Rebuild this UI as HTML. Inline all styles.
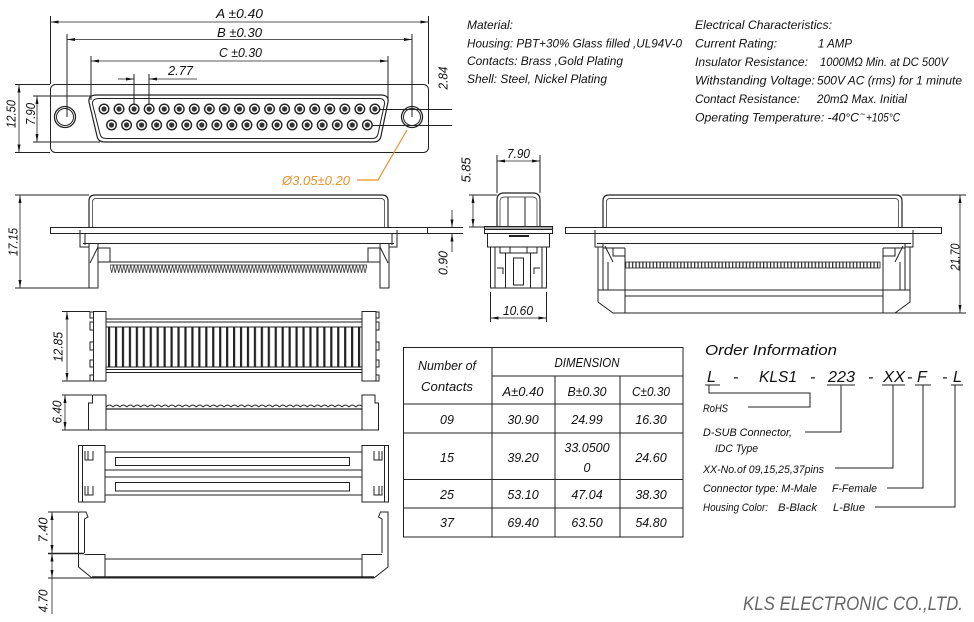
<!DOCTYPE html>
<html><head><meta charset="utf-8"><style>
html,body{margin:0;padding:0;background:#fff;}
svg{display:block;}
text{font-family:"Liberation Sans",sans-serif;font-style:italic;fill:#111;}
</style></head><body>
<svg width="974" height="622" viewBox="0 0 974 622" xmlns="http://www.w3.org/2000/svg">
<defs>
<marker id="ar" viewBox="0 0 8 3" refX="8" refY="1.5" markerWidth="8" markerHeight="3" orient="auto-start-reverse" markerUnits="userSpaceOnUse"><path d="M0,0L8,1.5L0,3z" fill="#111"/></marker>
<g id="pin"><circle r="4.8" fill="#fff" stroke="#222" stroke-width="1.4"/><circle r="2.6" fill="#333"/></g>
<pattern id="sl" x="108" y="0" width="6.944" height="622" patternUnits="userSpaceOnUse"><rect x="0" y="0" width="2.2" height="622" fill="#222"/></pattern>
<pattern id="zz" x="110" y="262" width="3.47" height="11" patternUnits="userSpaceOnUse"><path d="M0,3 L1.735,11 L3.47,3" fill="none" stroke="#333" stroke-width=".8"/></pattern>
<pattern id="tk" x="625" y="0" width="3.45" height="622" patternUnits="userSpaceOnUse"><rect x="0" y="0" width="1.3" height="622" fill="#333"/></pattern>
<pattern id="bm" x="106" y="403" width="6.94" height="6" patternUnits="userSpaceOnUse"><path d="M0,4 Q3.47,0 6.94,4" fill="none" stroke="#222" stroke-width="1"/></pattern>
</defs>

<g fill="none" stroke="#222" stroke-width="1">
<rect x="50.5" y="84.5" width="378" height="68" rx="5"/>
<circle cx="65" cy="117" r="10.5" stroke-width="1.3"/><circle cx="65" cy="117" r="8.5"/>
<circle cx="412" cy="117" r="10.5" stroke-width="1.3"/><circle cx="412" cy="117" r="8.5"/>
<path d="M97,95 H381 Q389,95 388,102 L381,136 Q380,142 373,142 H105 Q98,142 97,136 L89,102 Q88,95 97,95Z" stroke-width="1.2"/>
<path d="M99,98.5 H379 Q385,98.5 384.5,104 L378,134 Q377,138.5 372,138.5 H106 Q101,138.5 100,134 L92.5,104 Q92,98.5 99,98.5Z"/>
<line x1="50.5" y1="16" x2="50.5" y2="84"/><line x1="428.5" y1="16" x2="428.5" y2="84"/>
<line x1="50.5" y1="22" x2="428.5" y2="22" marker-start="url(#ar)" marker-end="url(#ar)" stroke-width=".8"/>
<line x1="67" y1="34" x2="67" y2="117"/><line x1="412" y1="34" x2="412" y2="117"/>
<line x1="67" y1="39.5" x2="412" y2="39.5" marker-start="url(#ar)" marker-end="url(#ar)" stroke-width=".8"/>
<line x1="91" y1="56" x2="91" y2="100"/><line x1="388" y1="56" x2="388" y2="100"/>
<line x1="91" y1="61" x2="388" y2="61" marker-start="url(#ar)" marker-end="url(#ar)" stroke-width=".8"/>
<line x1="134" y1="74" x2="134" y2="109"/><line x1="149" y1="74" x2="149" y2="109"/>
<line x1="118" y1="79" x2="134" y2="79" marker-end="url(#ar)" stroke-width=".8"/>
<line x1="197" y1="79" x2="149" y2="79" marker-end="url(#ar)" stroke-width=".8"/>
<line x1="15" y1="84.5" x2="50" y2="84.5"/><line x1="15" y1="152.5" x2="50" y2="152.5"/>
<line x1="19" y1="84.5" x2="19" y2="152.5" marker-start="url(#ar)" marker-end="url(#ar)" stroke-width=".8"/>
<line x1="33" y1="96" x2="92" y2="96"/><line x1="33" y1="142" x2="100" y2="142"/>
<line x1="37" y1="96" x2="37" y2="142" marker-start="url(#ar)" marker-end="url(#ar)" stroke-width=".8"/>
<line x1="380" y1="109.5" x2="452" y2="109.5"/><line x1="372" y1="125.5" x2="452" y2="125.5"/>
</g>
<g>
<use href="#pin" x="104" y="109"/><use href="#pin" x="119.05" y="109"/><use href="#pin" x="134.1" y="109"/><use href="#pin" x="149.15" y="109"/><use href="#pin" x="164.2" y="109"/><use href="#pin" x="179.25" y="109"/><use href="#pin" x="194.3" y="109"/><use href="#pin" x="209.35" y="109"/><use href="#pin" x="224.4" y="109"/><use href="#pin" x="239.45" y="109"/><use href="#pin" x="254.5" y="109"/><use href="#pin" x="269.55" y="109"/><use href="#pin" x="284.6" y="109"/><use href="#pin" x="299.65" y="109"/><use href="#pin" x="314.7" y="109"/><use href="#pin" x="329.75" y="109"/><use href="#pin" x="344.8" y="109"/><use href="#pin" x="359.85" y="109"/><use href="#pin" x="374.9" y="109"/>
<use href="#pin" x="111.5" y="125"/><use href="#pin" x="126.55" y="125"/><use href="#pin" x="141.6" y="125"/><use href="#pin" x="156.65" y="125"/><use href="#pin" x="171.7" y="125"/><use href="#pin" x="186.75" y="125"/><use href="#pin" x="201.8" y="125"/><use href="#pin" x="216.85" y="125"/><use href="#pin" x="231.9" y="125"/><use href="#pin" x="246.95" y="125"/><use href="#pin" x="262" y="125"/><use href="#pin" x="277.05" y="125"/><use href="#pin" x="292.1" y="125"/><use href="#pin" x="307.15" y="125"/><use href="#pin" x="322.2" y="125"/><use href="#pin" x="337.25" y="125"/><use href="#pin" x="352.3" y="125"/><use href="#pin" x="367.35" y="125"/>
</g>
<polyline points="407,130 378,180 357,180" fill="none" stroke="#e8912d" stroke-width="1.2"/>

<g fill="none" stroke="#222" stroke-width="1">
<path d="M89,227 V201 Q89,195 95,195 H382 Q388,195 388,201 V227" stroke-width="1.2"/>
<path d="M92.5,227 V202 Q92.5,198.5 96,198.5 H381 Q384.5,198.5 384.5,202 V227" stroke-width=".7"/>
<rect x="50.5" y="227.5" width="377" height="6"/>
<path d="M80,230 V247 H89 M397,230 V247 H389"/>
<line x1="85" y1="233" x2="85" y2="245"/><line x1="392" y1="233" x2="392" y2="245"/>
<line x1="83" y1="243.5" x2="394" y2="243.5"/>
<rect x="89" y="243.5" width="9" height="44.5"/><rect x="380" y="243.5" width="9" height="44.5"/>
<line x1="98" y1="247" x2="90" y2="263"/><line x1="380" y1="247" x2="388" y2="263"/>
<path d="M98,248 H110 V262 M380,248 H368 V262"/>
<line x1="98" y1="262" x2="380" y2="262"/>
<rect x="110" y="262" width="257" height="11" fill="url(#zz)" stroke="none"/>
<line x1="110" y1="265" x2="367" y2="265" stroke-width=".8"/>
<line x1="15" y1="195" x2="89" y2="195"/><line x1="15" y1="288" x2="89" y2="288"/>
<line x1="20" y1="195" x2="20" y2="288" marker-start="url(#ar)" marker-end="url(#ar)" stroke-width=".8"/>

<line x1="428" y1="227.5" x2="463" y2="227.5"/><line x1="428" y1="233.5" x2="463" y2="233.5"/>
<line x1="452" y1="210" x2="452" y2="227.5" marker-end="url(#ar)" stroke-width=".8"/>
<line x1="452" y1="252" x2="452" y2="233.5" marker-end="url(#ar)" stroke-width=".8"/>

<path d="M497,227 V200 Q497,193 504,193 H533 Q540,193 540,200 V227" stroke-width="1.2"/>
<path d="M500,227 V201 Q500,197 505,197 H532 Q537,197 537,201 V227" stroke-width=".7"/>
<line x1="508" y1="197" x2="508" y2="227"/><line x1="525" y1="197" x2="525" y2="227"/>
<rect x="484.5" y="226.5" width="68" height="3" fill="#aaa"/>
<rect x="484.5" y="226.5" width="68" height="7"/>
<rect x="487.5" y="233.5" width="62" height="13.5"/>
<line x1="509" y1="236" x2="529" y2="236" stroke-width="2"/>
<rect x="490.5" y="247" width="56" height="41"/>
<line x1="495" y1="247" x2="495" y2="288"/><line x1="542" y1="247" x2="542" y2="288"/>
<path d="M500,247 V253 H510 V247 M537,247 V253 H527 V247"/>
<rect x="505.5" y="253" width="25" height="35"/>
<rect x="513.5" y="258" width="10" height="27"/>
<path d="M497,268 H503 V274 M540,268 H534 V274"/>
<line x1="497" y1="155" x2="497" y2="193"/><line x1="540" y1="155" x2="540" y2="193"/>
<line x1="497" y1="161" x2="540" y2="161" marker-start="url(#ar)" marker-end="url(#ar)" stroke-width=".8"/>
<line x1="469" y1="195" x2="497" y2="195"/><line x1="469" y1="227" x2="484" y2="227"/>
<line x1="473" y1="195" x2="473" y2="227" marker-start="url(#ar)" marker-end="url(#ar)" stroke-width=".8"/>
<line x1="490.5" y1="292" x2="490.5" y2="322"/><line x1="546.5" y1="292" x2="546.5" y2="322"/>
<line x1="490.5" y1="318" x2="546.5" y2="318" marker-start="url(#ar)" marker-end="url(#ar)" stroke-width=".8"/>

<path d="M603,227 V201 Q603,195 609,195 H896 Q902,195 902,201 V227" stroke-width="1.2"/>
<path d="M606.5,227 V202 Q606.5,198.5 610,198.5 H895 Q898.5,198.5 898.5,202 V227" stroke-width=".7"/>
<rect x="565.5" y="227.5" width="376" height="6"/>
<path d="M595,230 V247 H603 M913,230 V247 H905"/>
<line x1="597" y1="243.5" x2="911" y2="243.5"/>
<path d="M598,247 V302 L613,313 H895 L910,302 V247"/>
<line x1="603" y1="243" x2="603" y2="290"/><line x1="905" y1="243" x2="905" y2="290"/>
<line x1="625" y1="248" x2="625" y2="313"/><line x1="883" y1="248" x2="883" y2="313"/>
<line x1="598" y1="290" x2="910" y2="290"/><line x1="625" y1="296" x2="883" y2="296"/>
<path d="M603,248 H625 M613,248 V256 H625 M905,248 H883 M895,248 V256 H883"/>
<line x1="605" y1="246" x2="613" y2="262"/><line x1="903" y1="246" x2="895" y2="262"/>
<path d="M608,262 V290 M900,262 V290"/>
<rect x="625" y="262" width="255" height="6" fill="url(#tk)" stroke="none"/>
<rect x="625" y="262" width="255" height="6" stroke-width=".8"/>
<line x1="902" y1="195" x2="966" y2="195"/><line x1="895" y1="313" x2="966" y2="313"/>
<line x1="960" y1="195" x2="960" y2="313" marker-start="url(#ar)" marker-end="url(#ar)" stroke-width=".8"/>

<rect x="93.5" y="311.5" width="12.5" height="69.5"/>
<rect x="362" y="311.5" width="14" height="69.5"/>
<path d="M93,312 H90 V318 H93 M93,322 H90 V330 H93 M93,342 H90 V350 H93 M93,360 H90 V367 H93 M93,375 H90 V381 H93"/>
<path d="M376,312 H379 V318 H376 M376,322 H379 V330 H376 M376,342 H379 V350 H376 M376,360 H379 V367 H376 M376,375 H379 V381 H376"/>
<line x1="106" y1="319" x2="362" y2="319"/><line x1="106" y1="322" x2="362" y2="322"/>
<line x1="106" y1="327" x2="362" y2="327"/><line x1="106" y1="367" x2="362" y2="367"/>
<line x1="106" y1="369.5" x2="362" y2="369.5"/><line x1="106" y1="372.5" x2="362" y2="372.5"/>
<rect x="106" y="327" width="256" height="40" fill="url(#sl)" stroke="none"/>
<line x1="62" y1="311.5" x2="90" y2="311.5"/><line x1="62" y1="381" x2="90" y2="381"/>
<line x1="67" y1="311.5" x2="67" y2="381" marker-start="url(#ar)" marker-end="url(#ar)" stroke-width=".8"/>

<path d="M92.5,395 H106 V430 M92.5,395 V403 H88.5 V430 H378.5 V403 H375 V395 H362 V430"/>
<line x1="106" y1="409" x2="362" y2="409" stroke-width="1.3"/>
<rect x="106" y="403" width="256" height="6" fill="url(#bm)" stroke="none"/>
<line x1="62" y1="395" x2="92" y2="395"/><line x1="62" y1="430" x2="88" y2="430"/>
<line x1="65" y1="395" x2="65" y2="430" marker-start="url(#ar)" marker-end="url(#ar)" stroke-width=".8"/>

<rect x="78.5" y="445.5" width="26.5" height="56.5"/>
<rect x="362" y="445.5" width="26.5" height="56.5"/>
<line x1="82.5" y1="445.5" x2="82.5" y2="502"/><line x1="384.5" y1="445.5" x2="384.5" y2="502"/>
<path d="M85,451 V460 H93 V451 M88,451 V460 M85,486 V495 H93 V486 M88,486 V495"/>
<path d="M382,451 V460 H374 V451 M379,451 V460 M382,486 V495 H374 V486 M379,486 V495"/>
<line x1="105" y1="452" x2="362" y2="452"/><line x1="105" y1="470" x2="362" y2="470"/>
<line x1="105" y1="477" x2="362" y2="477"/><line x1="105" y1="495" x2="362" y2="495"/>
<rect x="115.5" y="457.5" width="234" height="8"/>
<rect x="115.5" y="482.5" width="234" height="8.5"/>

<path d="M78.5,512 H86 L88,517 L84.5,519 V553 M78.5,512 V567 L92,578 H374 L388,567 V512 H380.5 L378.5,517 L382,519 V553"/>
<path d="M84.5,554.5 H105 V578 M382,554.5 H362 V578"/>
<line x1="105" y1="559" x2="362" y2="559"/>
<line x1="92" y1="577" x2="374" y2="577" stroke-width="1.4"/>
<line x1="48" y1="512" x2="78" y2="512"/><line x1="48" y1="553.5" x2="84" y2="553.5" stroke-width="1.6"/>
<line x1="52" y1="512" x2="52" y2="553" marker-start="url(#ar)" marker-end="url(#ar)" stroke-width=".8"/>
<line x1="48" y1="578" x2="92" y2="578"/>
<line x1="52" y1="553.5" x2="52" y2="578" marker-start="url(#ar)" marker-end="url(#ar)" stroke-width=".8"/>
<line x1="52" y1="578" x2="52" y2="614" stroke-width=".8"/>

<rect x="403.5" y="347.5" width="279.5" height="189.5"/>
<line x1="492" y1="347.5" x2="492" y2="537"/>
<line x1="492" y1="376" x2="683" y2="376"/>
<line x1="555" y1="376" x2="555" y2="537"/><line x1="620" y1="376" x2="620" y2="537"/>
<line x1="403.5" y1="404" x2="683" y2="404"/><line x1="403.5" y1="433" x2="683" y2="433"/>
<line x1="403.5" y1="479.5" x2="683" y2="479.5"/><line x1="403.5" y1="508" x2="683" y2="508"/>

<line x1="705" y1="385" x2="720" y2="385"/>
<line x1="827" y1="385" x2="855" y2="385"/>
<line x1="882" y1="385" x2="905" y2="385"/>
<line x1="915" y1="385" x2="931" y2="385"/>
<line x1="951" y1="385" x2="963" y2="385"/>
<polyline points="709,385 709,393 810,393 810,407 748,407"/>
<polyline points="841,385 841,432 805,432"/>
<polyline points="893,385 893,468 835,468"/>
<polyline points="923,385 923,488 887,488"/>
<polyline points="955,385 955,507 875,507"/>
</g>

<g font-size="12">
<text x="467" y="29" textLength="46" lengthAdjust="spacingAndGlyphs">Material:</text>
<text x="467" y="47.5" textLength="215" lengthAdjust="spacingAndGlyphs">Housing: PBT+30% Glass filled ,UL94V-0</text>
<text x="467" y="65" textLength="156" lengthAdjust="spacingAndGlyphs">Contacts: Brass ,Gold Plating</text>
<text x="467" y="83" textLength="140" lengthAdjust="spacingAndGlyphs">Shell: Steel, Nickel Plating</text>
<text x="695" y="29" textLength="137" lengthAdjust="spacingAndGlyphs">Electrical Characteristics:</text>
<text x="695" y="47.5" textLength="82" lengthAdjust="spacingAndGlyphs">Current Rating:</text>
<text x="818" y="47.5" textLength="34" lengthAdjust="spacingAndGlyphs">1 AMP</text>
<text x="695" y="66" textLength="113" lengthAdjust="spacingAndGlyphs">Insulator Resistance:</text>
<text x="820" y="66" textLength="128" lengthAdjust="spacingAndGlyphs">1000MΩ Min. at DC 500V</text>
<text x="695" y="84.5" textLength="120" lengthAdjust="spacingAndGlyphs">Withstanding Voltage:</text>
<text x="817" y="84.5" textLength="145" lengthAdjust="spacingAndGlyphs">500V AC (rms) for 1 minute</text>
<text x="695" y="103" textLength="105" lengthAdjust="spacingAndGlyphs">Contact Resistance:</text>
<text x="817" y="103" textLength="90" lengthAdjust="spacingAndGlyphs">20mΩ Max. Initial</text>
<text x="695" y="121.5" textLength="164" lengthAdjust="spacingAndGlyphs">Operating Temperature: -40°C</text>
<text x="860" y="117" font-size="9">~</text>
<text x="866" y="121.5" textLength="34" lengthAdjust="spacingAndGlyphs">+105°C</text>
</g>

<g font-size="13">
<text x="216" y="18" textLength="47" lengthAdjust="spacingAndGlyphs">A ±0.40</text>
<text x="217" y="37" textLength="45" lengthAdjust="spacingAndGlyphs">B ±0.30</text>
<text x="219" y="57" textLength="43" lengthAdjust="spacingAndGlyphs">C ±0.30</text>
<text x="168" y="75" textLength="25" lengthAdjust="spacingAndGlyphs">2.77</text>
<text x="282" y="185" textLength="68" lengthAdjust="spacingAndGlyphs" style="fill:#e8912d">Ø3.05±0.20</text>
<text x="507" y="158" textLength="23" lengthAdjust="spacingAndGlyphs">7.90</text>
<text x="503" y="315" textLength="30" lengthAdjust="spacingAndGlyphs">10.60</text>
<g text-anchor="middle">
<text transform="translate(15.5,114) rotate(-90)" textLength="28" lengthAdjust="spacingAndGlyphs">12.50</text>
<text transform="translate(35,114) rotate(-90)" textLength="22" lengthAdjust="spacingAndGlyphs">7.90</text>
<text transform="translate(447.5,78) rotate(-90)" textLength="23" lengthAdjust="spacingAndGlyphs">2.84</text>
<text transform="translate(17.5,242) rotate(-90)" textLength="28" lengthAdjust="spacingAndGlyphs">17.15</text>
<text transform="translate(447.5,263) rotate(-90)" textLength="24" lengthAdjust="spacingAndGlyphs">0.90</text>
<text transform="translate(470.5,170) rotate(-90)" textLength="25" lengthAdjust="spacingAndGlyphs">5.85</text>
<text transform="translate(959.5,257) rotate(-90)" textLength="27" lengthAdjust="spacingAndGlyphs">21.70</text>
<text transform="translate(62.5,347) rotate(-90)" textLength="30" lengthAdjust="spacingAndGlyphs">12.85</text>
<text transform="translate(61.5,412) rotate(-90)" textLength="23" lengthAdjust="spacingAndGlyphs">6.40</text>
<text transform="translate(47.5,530) rotate(-90)" textLength="25" lengthAdjust="spacingAndGlyphs">7.40</text>
<text transform="translate(47.5,601) rotate(-90)" textLength="23" lengthAdjust="spacingAndGlyphs">4.70</text>
</g>
</g>

<g font-size="12.5" text-anchor="middle">
<text x="447" y="370" textLength="58" lengthAdjust="spacingAndGlyphs">Number of</text>
<text x="447" y="391" textLength="52" lengthAdjust="spacingAndGlyphs">Contacts</text>
<text x="587" y="367" textLength="65" lengthAdjust="spacingAndGlyphs">DIMENSION</text>
<text x="523" y="396" textLength="41" lengthAdjust="spacingAndGlyphs">A±0.40</text>
<text x="587" y="396" textLength="39" lengthAdjust="spacingAndGlyphs">B±0.30</text>
<text x="651" y="396" textLength="38" lengthAdjust="spacingAndGlyphs">C±0.30</text>
<text x="447" y="424">09</text><text x="523" y="424">30.90</text><text x="587" y="424">24.99</text><text x="651" y="424">16.30</text>
<text x="447" y="462">15</text><text x="523" y="462">39.20</text><text x="587" y="452">33.0500</text><text x="587" y="472">0</text><text x="651" y="462">24.60</text>
<text x="447" y="499">25</text><text x="523" y="499">53.10</text><text x="587" y="499">47.04</text><text x="651" y="499">38.30</text>
<text x="447" y="527">37</text><text x="523" y="527">69.40</text><text x="587" y="527">63.50</text><text x="651" y="527">54.80</text>
</g>

<text x="705" y="355" font-size="15" textLength="132" lengthAdjust="spacingAndGlyphs">Order Information</text>
<g font-size="16">
<text x="707" y="382">L</text>
<text x="733" y="382">-</text>
<text x="759" y="382" textLength="38" lengthAdjust="spacingAndGlyphs">KLS1</text>
<text x="810" y="382">-</text>
<text x="828" y="382" textLength="27" lengthAdjust="spacingAndGlyphs">223</text>
<text x="868" y="382">-</text>
<text x="883" y="382" textLength="22" lengthAdjust="spacingAndGlyphs">XX</text>
<text x="907" y="382">-</text>
<text x="917" y="382">F</text>
<text x="942" y="382">-</text>
<text x="953" y="382">L</text>
</g>
<g font-size="11">
<text x="703" y="412" textLength="25" lengthAdjust="spacingAndGlyphs">RoHS</text>
<text x="703" y="436" textLength="89" lengthAdjust="spacingAndGlyphs">D-SUB Connector,</text>
<text x="715" y="452" textLength="43" lengthAdjust="spacingAndGlyphs">IDC Type</text>
<text x="703" y="473" textLength="121" lengthAdjust="spacingAndGlyphs">XX-No.of 09,15,25,37pins</text>
<text x="703" y="492" textLength="114" lengthAdjust="spacingAndGlyphs">Connector type: M-Male</text>
<text x="832" y="492" textLength="45" lengthAdjust="spacingAndGlyphs">F-Female</text>
<text x="703" y="511" textLength="65" lengthAdjust="spacingAndGlyphs">Housing Color:</text>
<text x="778" y="511" textLength="39" lengthAdjust="spacingAndGlyphs">B-Black</text>
<text x="833" y="511" textLength="32" lengthAdjust="spacingAndGlyphs">L-Blue</text>
</g>

<text x="743" y="610" font-size="19" textLength="220" lengthAdjust="spacingAndGlyphs" style="fill:#666">KLS ELECTRONIC CO.,LTD.</text>
</svg>
</body></html>
